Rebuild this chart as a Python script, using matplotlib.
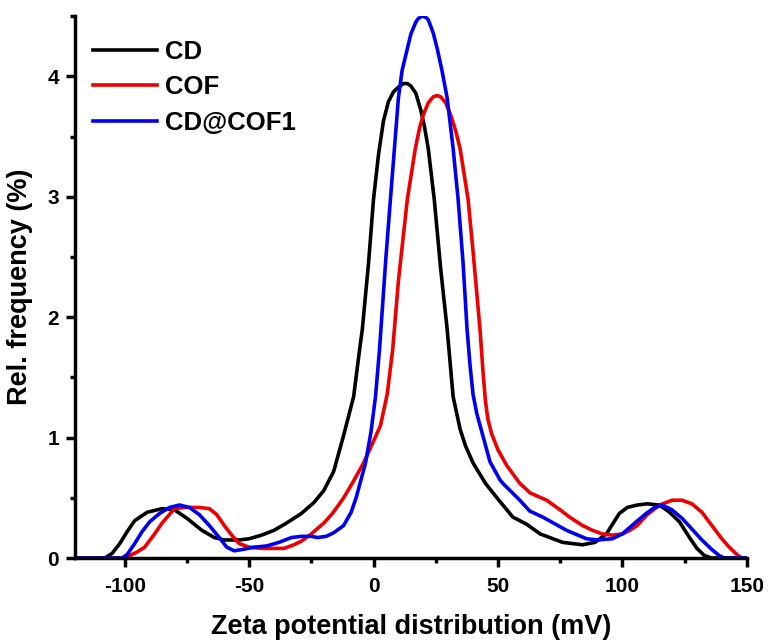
import numpy as np
import matplotlib
matplotlib.use('Agg')
import matplotlib.pyplot as plt
from matplotlib.ticker import MultipleLocator

plt.rcParams['font.family'] = ['Liberation Sans', 'DejaVu Sans']
plt.rcParams['font.weight'] = 'bold'
plt.rcParams['axes.unicode_minus'] = False

# CD (black)
cd_x = [-120, -108, -105, -102, -99, -96, -91, -85, -80, -75, -69, -64, -60, -54, -50,
        -45, -40, -35, -29, -24, -20, -16, -12, -8, -5.6, -4.5, -2, 0, 2, 4, 6, 8, 10, 12, 13.6,
        15, 17, 19, 20.5, 22, 24.4, 27, 29.6, 32, 34.8, 37, 40, 45, 50, 56, 61.6, 67, 76, 84, 89,
        93.6, 98.8, 102, 106, 110, 115, 119, 123, 127, 130, 133, 136, 150]
cd_y = [0, 0, 0.04, 0.12, 0.22, 0.31, 0.38, 0.41, 0.40, 0.33, 0.23, 0.17, 0.15, 0.15, 0.16,
        0.19, 0.23, 0.29, 0.37, 0.46, 0.56, 0.72, 1.02, 1.34, 1.73, 1.9, 2.45, 2.98, 3.35, 3.63, 3.79, 3.87, 3.91, 3.94, 3.94,
        3.92, 3.86, 3.72, 3.58, 3.4, 2.98, 2.4, 1.9, 1.34, 1.07, 0.93, 0.79, 0.62, 0.49, 0.34, 0.28, 0.2, 0.13, 0.11, 0.13,
        0.2, 0.37, 0.42, 0.44, 0.45, 0.44, 0.38, 0.3, 0.17, 0.08, 0.02, 0, 0]

# COF (red)
cof_x = [-120, -100, -98, -95, -92, -88, -85, -80, -76, -70, -66, -63, -60, -57, -54, -50,
         -45, -40, -36, -32, -29, -25, -20, -16.5, -12, -8, -4, 0, 2.8, 5.5, 7.7, 10, 13.6,
         16.8, 18.5, 20, 22, 24, 25.6, 27, 29, 31, 33, 34.8, 38, 40, 42.8, 44, 45, 46, 47.5,
         50, 53.5, 58.8, 63, 69.6, 75, 78.8, 84, 88, 92, 96, 100, 103, 106, 110, 115, 120,
         124, 128, 132, 136, 140, 143, 146, 148, 150]
cof_y = [0, 0, 0.02, 0.05, 0.09, 0.2, 0.29, 0.41, 0.42, 0.42, 0.41, 0.36, 0.27, 0.19, 0.12, 0.09,
         0.08, 0.08, 0.08, 0.11, 0.14, 0.2, 0.29, 0.37, 0.5, 0.64, 0.79, 0.97, 1.1, 1.36, 1.73, 2.3, 2.98,
         3.4, 3.57, 3.68, 3.78, 3.83, 3.84, 3.83, 3.78, 3.68, 3.55, 3.4, 2.98, 2.55, 1.9, 1.55, 1.3, 1.15, 1.03,
         0.9, 0.77, 0.62, 0.54, 0.48, 0.4, 0.34, 0.27, 0.23, 0.2, 0.19, 0.2, 0.23, 0.27, 0.36, 0.44, 0.48,
         0.48, 0.45, 0.38, 0.27, 0.16, 0.09, 0.03, 0, 0]

# CD@COF1 (blue)
mix_x = [-120, -101, -99, -96, -93, -90, -86, -82, -78, -74, -70, -66, -62, -59, -56, -53,
         -48, -43, -38, -33, -29, -25, -22.5, -19, -16, -12, -9, -7, -3.2, -1, 0.8, 2.4, 5,
         6.8, 8.4, 10, 11.5, 13.6, 15, 17, 18, 19.6, 21, 22, 24, 25.6, 27.5, 29.6, 32, 34, 36,
         37.6, 38.8, 40, 41.5, 43.5, 46.8, 50.8, 52, 58.8, 62.8, 68, 77.6, 85.6, 90, 96, 100,
         105, 109.6, 113, 116, 120, 124, 128, 132, 136, 139, 141, 150]
mix_y = [0, 0, 0.03, 0.12, 0.22, 0.3, 0.37, 0.42, 0.44, 0.42, 0.36, 0.27, 0.17, 0.09, 0.06, 0.07,
         0.09, 0.1, 0.13, 0.17, 0.18, 0.18, 0.17, 0.18, 0.21, 0.27, 0.38, 0.5, 0.79, 1.05, 1.34, 1.73, 2.5,
         2.98, 3.4, 3.82, 4.05, 4.23, 4.35, 4.45, 4.48, 4.5, 4.49, 4.47, 4.36, 4.23, 4.05, 3.82, 3.4, 2.98, 2.45,
         1.9, 1.6, 1.36, 1.2, 1.05, 0.8, 0.65, 0.62, 0.48, 0.39, 0.34, 0.23, 0.16, 0.15, 0.16, 0.2,
         0.29, 0.37, 0.42, 0.44, 0.4, 0.33, 0.24, 0.15, 0.07, 0.02, 0, 0]

fig = plt.figure(figsize=(7.69, 6.44), dpi=100)
ax = fig.add_axes([0.0975, 0.1335, 0.8735, 0.8415])

ax.plot(cd_x, cd_y, color='black', lw=2.6, label='CD')
ax.plot(cof_x, cof_y, color='#ee0000', lw=2.6, label='COF')
ax.plot(mix_x, mix_y, color='#0000ee', lw=2.6, label='CD@COF1')

ax.set_xlim(-120, 150)
ax.set_ylim(0, 4.5)
ax.xaxis.set_major_locator(MultipleLocator(50))
ax.xaxis.set_minor_locator(MultipleLocator(25))
ax.yaxis.set_major_locator(MultipleLocator(1))
ax.yaxis.set_minor_locator(MultipleLocator(0.5))
ax.set_xticks([-100, -50, 0, 50, 100, 150])

for s in ['top', 'right']:
    ax.spines[s].set_visible(False)
for s in ['left', 'bottom']:
    ax.spines[s].set_linewidth(2.5)

ax.tick_params(which='major', direction='out', length=6.5, width=2.5, labelsize=15)
ax.tick_params(which='minor', direction='out', length=3.5, width=2.5)
ax.tick_params(axis='x', which='major', pad=7)
ax.tick_params(axis='y', which='major', pad=5)

ax.set_xlabel('Zeta potential distribution (mV)', fontsize=19.5, fontweight='bold', labelpad=13)
ax.set_ylabel('Rel. frequency (%)', fontsize=19.5, fontweight='bold', labelpad=10)

leg = ax.legend(loc='upper left', frameon=False, fontsize=18.5, handlelength=2.5,
                handletextpad=0.3, labelspacing=0.45, borderaxespad=0.3,
                bbox_to_anchor=(0.0, 0.99))
for line in leg.get_lines():
    line.set_linewidth(2.6)

plt.savefig('out.png', dpi=100)
